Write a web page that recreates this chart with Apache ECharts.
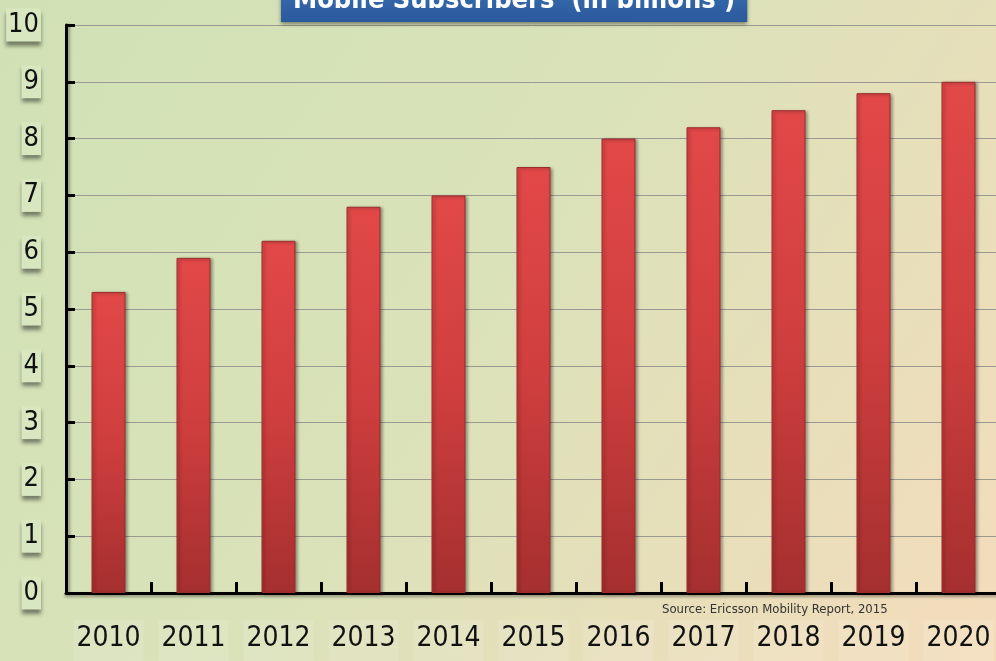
<!DOCTYPE html>
<html>
<head>
<meta charset="utf-8">
<title>Mobile Subscribers</title>
<script src="https://cdn.jsdelivr.net/npm/echarts@6/dist/echarts.min.js"></script>
<style>
  html, body { margin: 0; padding: 0; width: 996px; height: 661px; overflow: hidden; }
  #chart { width: 996px; height: 661px; }
</style>
</head>
<body>
<div id="chart"></div>
<script>
// Mobile subscriptions worldwide, in billions
const years = ['2010', '2011', '2012', '2013', '2014', '2015', '2016', '2017', '2018', '2019', '2020'];
const subscribers = [5.3, 5.9, 6.2, 6.8, 7.0, 7.5, 8.0, 8.2, 8.5, 8.8, 9.0];
const yTicks = [0, 1, 2, 3, 4, 5, 6, 7, 8, 9, 10];

const titleText = 'Mobile Subscribers  (in billions )';
const sourceText = 'Source: Ericsson Mobility Report, 2015';

const narrow = "'Liberation Sans Narrow', 'DejaVu Sans Condensed', 'Open Sans', sans-serif";

const chart = echarts.init(document.getElementById('chart'));

chart.setOption({
  animation: false,
  backgroundColor: {
    type: 'linear', x: 0, y: 0, x2: 1, y2: 1,
    colorStops: [
      { offset: 0, color: '#d1e1b5' },
      { offset: 0.45, color: '#d9e2b9' },
      { offset: 1, color: '#f4dcbb' }
    ]
  },
  title: {
    text: titleText,
    left: 281,
    top: -21,
    padding: [8, 12, 8, 12],
    backgroundColor: {
      type: 'linear', x: 0, y: 0, x2: 0, y2: 1,
      colorStops: [
        { offset: 0, color: '#3a6fb5' },
        { offset: 1, color: '#2b5a9c' }
      ]
    },
    shadowColor: 'rgba(0,0,0,0.45)',
    shadowBlur: 4,
    shadowOffsetY: 2,
    textStyle: {
      color: '#ffffff',
      fontFamily: narrow,
      fontWeight: 'bold',
      fontSize: 27
    }
  },
  grid: {
    left: 66,
    top: 25,
    width: 935,
    bottom: 68,
    outerBoundsMode: 'none',
    containLabel: false
  },
  xAxis: {
    type: 'category',
    data: years,
    axisLine: {
      lineStyle: { color: '#000', width: 3, shadowColor: 'rgba(0,0,0,0.35)', shadowBlur: 3, shadowOffsetY: 2 }
    },
    axisTick: {
      show: true,
      inside: true,
      length: 11,
      alignWithLabel: false,
      lineStyle: { color: '#000', width: 3 }
    },
    axisLabel: {
      interval: 0,
      margin: 27,
      color: '#111',
      fontFamily: narrow,
      fontSize: 28,
      backgroundColor: 'rgba(255,255,255,0.12)',
      padding: [5, 3, 20, 3],
      borderRadius: 0
    },
    splitLine: { show: false }
  },
  yAxis: {
    type: 'value',
    min: 0,
    max: 10,
    interval: 1,
    axisLine: {
      show: true,
      lineStyle: { color: '#000', width: 3, shadowColor: 'rgba(0,0,0,0.35)', shadowBlur: 3, shadowOffsetX: 2 }
    },
    axisTick: {
      show: true,
      inside: true,
      length: 9,
      lineStyle: { color: '#000', width: 3 }
    },
    axisLabel: {
      margin: 25,
      color: '#111',
      fontFamily: narrow,
      fontSize: 27,
      formatter: function (v) { return yTicks.indexOf(v) >= 0 ? String(v) : ''; },
      backgroundColor: '#d9e7c1',
      padding: [3, 2, 3, 2],
      shadowColor: 'rgba(0,0,0,0.45)',
      shadowBlur: 4,
      shadowOffsetY: 4
    },
    splitLine: {
      show: true,
      lineStyle: { color: '#9a9a92', width: 1 }
    }
  },
  series: [{
    type: 'bar',
    data: subscribers,
    barWidth: 34,
    itemStyle: {
      color: {
        type: 'linear', x: 0, y: 0, x2: 0, y2: 1,
        colorStops: [
          { offset: 0, color: '#e24848' },
          { offset: 0.5, color: '#cf3e3e' },
          { offset: 1, color: '#a52f2f' }
        ]
      },
      borderColor: '#9c2c2c',
      borderWidth: 1,
      shadowColor: 'rgba(0,0,0,0.35)',
      shadowBlur: 3,
      shadowOffsetX: 2,
      shadowOffsetY: 1
    }
  }],
  graphic: [{
    type: 'text',
    left: 662,
    top: 603,
    style: {
      text: sourceText,
      fill: '#333',
      font: "13px 'Liberation Sans Narrow', 'DejaVu Sans Condensed', sans-serif"
    }
  }]
});
</script>
</body>
</html>
